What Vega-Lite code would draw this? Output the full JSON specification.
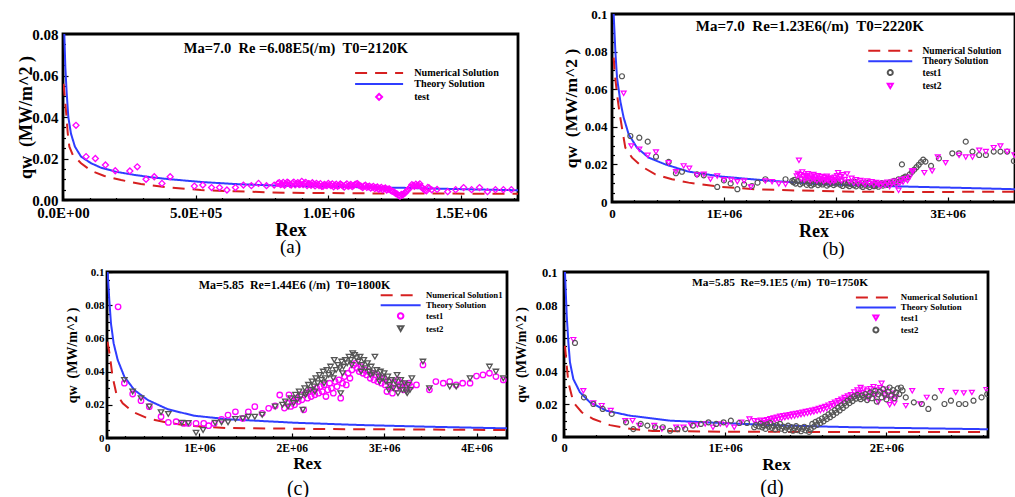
{
"$schema": "https://vega.github.io/schema/vega-lite/v6.json",
"background": "white",
"padding": {"left": 16, "top": 6, "right": 0, "bottom": 0},
"config": {
  "font": "Liberation Serif",
  "view": {"stroke": "black", "strokeWidth": 2.8},
  "axis": {"domain": false, "grid": false, "labelFont": "Liberation Serif", "labelFontWeight": "bold", "labelColor": "black", "titleFont": "Liberation Serif", "titleFontWeight": "bold", "titleColor": "black", "tickColor": "black", "tickWidth": 1.2, "labelOverlap": false, "labelBound": false, "labelFlush": false},
  "legend": {"labelFont": "Liberation Serif", "labelFontWeight": "bold", "labelColor": "black"},
  "title": {"font": "Liberation Serif", "fontWeight": "normal", "color": "black"}
},
"datasets": {
  "aL": [
    {"s":"Theory Solution","x":3000,"y":0.09},{"s":"Theory Solution","x":5000,"y":0.08},{"s":"Theory Solution","x":8800,"y":0.064},{"s":"Theory Solution","x":14000,"y":0.0514},{"s":"Theory Solution","x":20000,"y":0.04},{"s":"Theory Solution","x":30000,"y":0.032},{"s":"Theory Solution","x":45000,"y":0.0257},{"s":"Theory Solution","x":68000,"y":0.0209},{"s":"Theory Solution","x":106000,"y":0.0177},{"s":"Theory Solution","x":143000,"y":0.0156},{"s":"Theory Solution","x":200000,"y":0.0136},{"s":"Theory Solution","x":269000,"y":0.0121},{"s":"Theory Solution","x":330000,"y":0.011},{"s":"Theory Solution","x":395000,"y":0.0101},{"s":"Theory Solution","x":520000,"y":0.0087},{"s":"Theory Solution","x":646000,"y":0.0077},{"s":"Theory Solution","x":771000,"y":0.0071},{"s":"Theory Solution","x":900000,"y":0.0067},{"s":"Theory Solution","x":1023000,"y":0.0064},{"s":"Theory Solution","x":1150000,"y":0.0061},{"s":"Theory Solution","x":1274000,"y":0.0059},{"s":"Theory Solution","x":1400000,"y":0.0055},{"s":"Theory Solution","x":1550000,"y":0.0051},{"s":"Theory Solution","x":1715000,"y":0.0047},
    {"s":"Numerical Solution","x":2000,"y":0.056},{"s":"Numerical Solution","x":11000,"y":0.0434},{"s":"Numerical Solution","x":18000,"y":0.032},{"s":"Numerical Solution","x":24000,"y":0.0257},{"s":"Numerical Solution","x":37000,"y":0.0217},{"s":"Numerical Solution","x":68000,"y":0.0177},{"s":"Numerical Solution","x":106000,"y":0.0141},{"s":"Numerical Solution","x":156000,"y":0.0116},{"s":"Numerical Solution","x":219000,"y":0.0096},{"s":"Numerical Solution","x":294000,"y":0.0077},{"s":"Numerical Solution","x":395000,"y":0.0061},{"s":"Numerical Solution","x":520000,"y":0.0048},{"s":"Numerical Solution","x":646000,"y":0.0042},{"s":"Numerical Solution","x":830000,"y":0.0035},{"s":"Numerical Solution","x":1130000,"y":0.0032},{"s":"Numerical Solution","x":1400000,"y":0.0031},{"s":"Numerical Solution","x":1715000,"y":0.003}
  ],
  "aP": [
    {"s":"test","x":49000,"y":0.036},{"s":"test","x":87000,"y":0.0209},{"s":"test","x":122000,"y":0.02},{"s":"test","x":160000,"y":0.0169},{"s":"test","x":197000,"y":0.0141},{"s":"test","x":252000,"y":0.014},{"s":"test","x":280000,"y":0.016},{"s":"test","x":313000,"y":0.01},{"s":"test","x":344000,"y":0.0112},{"s":"test","x":373000,"y":0.008},{"s":"test","x":404000,"y":0.0112},{"s":"test","x":495000,"y":0.0067},{"s":"test","x":527000,"y":0.0072},{"s":"test","x":560000,"y":0.006},{"s":"test","x":590000,"y":0.006},{"s":"test","x":618000,"y":0.0048},{"s":"test","x":650000,"y":0.006},{"s":"test","x":680000,"y":0.0072},{"s":"test","x":710000,"y":0.0069},{"s":"test","x":737000,"y":0.008},{"s":"test","x":767000,"y":0.0069},{"s":"test","x":796000,"y":0.0072},
    {"s":"test","x":810000,"y":0.008},{"s":"test","x":820000,"y":0.0074},{"s":"test","x":830000,"y":0.0085},{"s":"test","x":840000,"y":0.0078},{"s":"test","x":850000,"y":0.0082},{"s":"test","x":860000,"y":0.0072},{"s":"test","x":870000,"y":0.0086},{"s":"test","x":880000,"y":0.0079},{"s":"test","x":890000,"y":0.0074},{"s":"test","x":900000,"y":0.009},{"s":"test","x":910000,"y":0.0081},{"s":"test","x":920000,"y":0.007},{"s":"test","x":930000,"y":0.0077},{"s":"test","x":940000,"y":0.0083},{"s":"test","x":950000,"y":0.0068},{"s":"test","x":960000,"y":0.0075},{"s":"test","x":970000,"y":0.0079},{"s":"test","x":980000,"y":0.0066},{"s":"test","x":990000,"y":0.0072},{"s":"test","x":1000000,"y":0.008},{"s":"test","x":1010000,"y":0.007},{"s":"test","x":1020000,"y":0.0064},{"s":"test","x":1030000,"y":0.0076},{"s":"test","x":1040000,"y":0.0069},{"s":"test","x":1050000,"y":0.0073},{"s":"test","x":1060000,"y":0.0062},{"s":"test","x":1070000,"y":0.0078},{"s":"test","x":1080000,"y":0.007},{"s":"test","x":1090000,"y":0.0065},{"s":"test","x":1100000,"y":0.0074},{"s":"test","x":1110000,"y":0.0079},{"s":"test","x":1120000,"y":0.0068},{"s":"test","x":1130000,"y":0.006},{"s":"test","x":1140000,"y":0.0071},{"s":"test","x":1150000,"y":0.0064},{"s":"test","x":1160000,"y":0.0057},{"s":"test","x":1170000,"y":0.0066},{"s":"test","x":1180000,"y":0.0059},{"s":"test","x":1190000,"y":0.0052},{"s":"test","x":1200000,"y":0.0061},{"s":"test","x":1210000,"y":0.0055},{"s":"test","x":1220000,"y":0.0048},{"s":"test","x":1230000,"y":0.0054},{"s":"test","x":1240000,"y":0.0043},{"s":"test","x":1250000,"y":0.0036},{"s":"test","x":1260000,"y":0.0028},{"s":"test","x":1270000,"y":0.0018},{"s":"test","x":1280000,"y":0.0024},{"s":"test","x":1290000,"y":0.0035},{"s":"test","x":1300000,"y":0.0049},{"s":"test","x":1310000,"y":0.0062},{"s":"test","x":1320000,"y":0.007},{"s":"test","x":1330000,"y":0.0076},{"s":"test","x":1340000,"y":0.0072},{"s":"test","x":1350000,"y":0.0064},{"s":"test","x":1360000,"y":0.0052},{"s":"test","x":1370000,"y":0.0044},{"s":"test","x":1380000,"y":0.0058},{"s":"test","x":1390000,"y":0.0049},
    {"s":"test","x":815000,"y":0.0084},{"s":"test","x":825000,"y":0.0077},{"s":"test","x":835000,"y":0.0071},{"s":"test","x":845000,"y":0.0086},{"s":"test","x":855000,"y":0.0076},{"s":"test","x":865000,"y":0.0081},{"s":"test","x":875000,"y":0.0073},{"s":"test","x":885000,"y":0.0084},{"s":"test","x":895000,"y":0.0077},{"s":"test","x":905000,"y":0.0074},{"s":"test","x":915000,"y":0.0085},{"s":"test","x":925000,"y":0.0079},{"s":"test","x":935000,"y":0.0071},{"s":"test","x":945000,"y":0.0076},{"s":"test","x":955000,"y":0.008},{"s":"test","x":965000,"y":0.007},{"s":"test","x":975000,"y":0.0066},{"s":"test","x":985000,"y":0.0075},{"s":"test","x":995000,"y":0.0069},{"s":"test","x":1005000,"y":0.0074},{"s":"test","x":1015000,"y":0.0078},{"s":"test","x":1025000,"y":0.0071},{"s":"test","x":1035000,"y":0.0066},{"s":"test","x":1045000,"y":0.0077},{"s":"test","x":1055000,"y":0.0068},{"s":"test","x":1065000,"y":0.0072},{"s":"test","x":1075000,"y":0.0066},{"s":"test","x":1085000,"y":0.0075},{"s":"test","x":1095000,"y":0.0069},{"s":"test","x":1105000,"y":0.0077},{"s":"test","x":1115000,"y":0.0072},{"s":"test","x":1125000,"y":0.0065},{"s":"test","x":1135000,"y":0.0068},{"s":"test","x":1145000,"y":0.0061},{"s":"test","x":1155000,"y":0.0067},{"s":"test","x":1165000,"y":0.0062},{"s":"test","x":1175000,"y":0.0055},{"s":"test","x":1185000,"y":0.0063},{"s":"test","x":1195000,"y":0.0057},{"s":"test","x":1205000,"y":0.005},{"s":"test","x":1215000,"y":0.0058},{"s":"test","x":1225000,"y":0.0052},{"s":"test","x":1235000,"y":0.0046},{"s":"test","x":1245000,"y":0.004},{"s":"test","x":1255000,"y":0.0031},{"s":"test","x":1265000,"y":0.0022},{"s":"test","x":1275000,"y":0.0027},{"s":"test","x":1285000,"y":0.0031},{"s":"test","x":1295000,"y":0.0042},{"s":"test","x":1305000,"y":0.0056},{"s":"test","x":1315000,"y":0.0074},{"s":"test","x":1325000,"y":0.0066},{"s":"test","x":1335000,"y":0.0069},{"s":"test","x":1345000,"y":0.0078},{"s":"test","x":1355000,"y":0.0058},{"s":"test","x":1365000,"y":0.0047},{"s":"test","x":1375000,"y":0.0061},
    {"s":"test","x":1410000,"y":0.0051},{"s":"test","x":1450000,"y":0.004},{"s":"test","x":1480000,"y":0.005},{"s":"test","x":1510000,"y":0.006},{"s":"test","x":1540000,"y":0.005},{"s":"test","x":1570000,"y":0.006},{"s":"test","x":1600000,"y":0.004},{"s":"test","x":1630000,"y":0.005},{"s":"test","x":1660000,"y":0.005},{"s":"test","x":1690000,"y":0.005}
  ],
  "bL": [
    {"s":"Theory Solution","x":8000,"y":0.11},{"s":"Theory Solution","x":15000,"y":0.1},{"s":"Theory Solution","x":30000,"y":0.08},{"s":"Theory Solution","x":45000,"y":0.066},{"s":"Theory Solution","x":74000,"y":0.0537},{"s":"Theory Solution","x":104000,"y":0.0449},{"s":"Theory Solution","x":149000,"y":0.036},{"s":"Theory Solution","x":223000,"y":0.0289},{"s":"Theory Solution","x":327000,"y":0.0236},{"s":"Theory Solution","x":476000,"y":0.02},{"s":"Theory Solution","x":680000,"y":0.0162},{"s":"Theory Solution","x":980000,"y":0.0135},{"s":"Theory Solution","x":1370000,"y":0.0115},{"s":"Theory Solution","x":1820000,"y":0.0096},{"s":"Theory Solution","x":2200000,"y":0.0088},{"s":"Theory Solution","x":2700000,"y":0.0081},{"s":"Theory Solution","x":3200000,"y":0.0074},{"s":"Theory Solution","x":3600000,"y":0.0068},
    {"s":"Numerical Solution","x":15000,"y":0.0768},{"s":"Numerical Solution","x":24000,"y":0.0688},{"s":"Numerical Solution","x":45000,"y":0.0573},{"s":"Numerical Solution","x":65000,"y":0.0484},{"s":"Numerical Solution","x":89000,"y":0.0395},{"s":"Numerical Solution","x":119000,"y":0.0289},{"s":"Numerical Solution","x":179000,"y":0.0236},{"s":"Numerical Solution","x":268000,"y":0.0188},{"s":"Numerical Solution","x":387000,"y":0.0147},{"s":"Numerical Solution","x":536000,"y":0.0121},{"s":"Numerical Solution","x":685000,"y":0.0103},{"s":"Numerical Solution","x":980000,"y":0.008},{"s":"Numerical Solution","x":1280000,"y":0.0068},{"s":"Numerical Solution","x":1580000,"y":0.0062},{"s":"Numerical Solution","x":2170000,"y":0.0055},{"s":"Numerical Solution","x":2770000,"y":0.0053},{"s":"Numerical Solution","x":3600000,"y":0.0055}
  ],
  "bP": [
    {"s":"test1","x":89000,"y":0.0669},{"s":"test1","x":164000,"y":0.0351},{"s":"test1","x":244000,"y":0.0342},{"s":"test1","x":319000,"y":0.0321},{"s":"test1","x":393000,"y":0.0241},{"s":"test1","x":506000,"y":0.0213},{"s":"test1","x":571000,"y":0.0153},{"s":"test1","x":625000,"y":0.0161},{"s":"test1","x":760000,"y":0.0147},{"s":"test1","x":820000,"y":0.0142},{"s":"test1","x":940000,"y":0.008},{"s":"test1","x":1000000,"y":0.0115},{"s":"test1","x":1060000,"y":0.0099},{"s":"test1","x":1120000,"y":0.0068},{"s":"test1","x":1180000,"y":0.0094},{"s":"test1","x":1250000,"y":0.0085},{"s":"test1","x":1300000,"y":0.0103},{"s":"test1","x":1370000,"y":0.0121},{"s":"test1","x":1550000,"y":0.0121},{"s":"test1","x":1610000,"y":0.0112},
    {"s":"test1","x":1620000,"y":0.0105},{"s":"test1","x":1640000,"y":0.0098},{"s":"test1","x":1660000,"y":0.0112},{"s":"test1","x":1680000,"y":0.0094},{"s":"test1","x":1700000,"y":0.0102},{"s":"test1","x":1720000,"y":0.0109},{"s":"test1","x":1740000,"y":0.0091},{"s":"test1","x":1760000,"y":0.01},{"s":"test1","x":1780000,"y":0.0088},{"s":"test1","x":1800000,"y":0.0096},{"s":"test1","x":1820000,"y":0.0104},{"s":"test1","x":1840000,"y":0.009},{"s":"test1","x":1860000,"y":0.0099},{"s":"test1","x":1880000,"y":0.0093},{"s":"test1","x":1900000,"y":0.0102},{"s":"test1","x":1920000,"y":0.0087},{"s":"test1","x":1940000,"y":0.0095},{"s":"test1","x":1960000,"y":0.0101},{"s":"test1","x":1980000,"y":0.009},{"s":"test1","x":2000000,"y":0.0097},{"s":"test1","x":2020000,"y":0.0106},{"s":"test1","x":2040000,"y":0.0092},{"s":"test1","x":2060000,"y":0.0085},{"s":"test1","x":2080000,"y":0.0099},{"s":"test1","x":2100000,"y":0.0091},{"s":"test1","x":2120000,"y":0.0084},{"s":"test1","x":2140000,"y":0.0096},{"s":"test1","x":2160000,"y":0.0089},{"s":"test1","x":2180000,"y":0.0083},{"s":"test1","x":2200000,"y":0.0094},{"s":"test1","x":2220000,"y":0.0087},{"s":"test1","x":2240000,"y":0.008},{"s":"test1","x":2260000,"y":0.0092},{"s":"test1","x":2280000,"y":0.0086},{"s":"test1","x":2300000,"y":0.0079},{"s":"test1","x":2320000,"y":0.009},{"s":"test1","x":2340000,"y":0.0084},{"s":"test1","x":2360000,"y":0.0088},{"s":"test1","x":2380000,"y":0.0081},{"s":"test1","x":2400000,"y":0.0093},{"s":"test1","x":2420000,"y":0.0087},{"s":"test1","x":2440000,"y":0.0098},{"s":"test1","x":2460000,"y":0.0091},{"s":"test1","x":2480000,"y":0.0104},{"s":"test1","x":2500000,"y":0.0099},{"s":"test1","x":2520000,"y":0.0112},{"s":"test1","x":2540000,"y":0.0107},{"s":"test1","x":2560000,"y":0.0121},{"s":"test1","x":2580000,"y":0.0116},{"s":"test1","x":2600000,"y":0.0128},{"s":"test1","x":2620000,"y":0.0135},{"s":"test1","x":2640000,"y":0.0131},{"s":"test1","x":2660000,"y":0.0147},{"s":"test1","x":2680000,"y":0.016},{"s":"test1","x":2700000,"y":0.0172},{"s":"test1","x":2720000,"y":0.0185},{"s":"test1","x":2740000,"y":0.0198},{"s":"test1","x":2760000,"y":0.0212},{"s":"test1","x":2780000,"y":0.0225},{"s":"test1","x":2800000,"y":0.0215},
    {"s":"test1","x":1630000,"y":0.0118},{"s":"test1","x":1690000,"y":0.0121},{"s":"test1","x":1750000,"y":0.0114},{"s":"test1","x":1810000,"y":0.0117},{"s":"test1","x":1870000,"y":0.011},{"s":"test1","x":1930000,"y":0.0113},{"s":"test1","x":1990000,"y":0.0108},{"s":"test1","x":2050000,"y":0.0111},{"s":"test1","x":2110000,"y":0.0104},{"s":"test1","x":2170000,"y":0.0107},{"s":"test1","x":2230000,"y":0.0101},{"s":"test1","x":2290000,"y":0.0103},{"s":"test1","x":2350000,"y":0.0097},{"s":"test1","x":2410000,"y":0.01},
    {"s":"test1","x":2590000,"y":0.02},{"s":"test1","x":2850000,"y":0.0192},{"s":"test1","x":2920000,"y":0.0232},{"s":"test1","x":3040000,"y":0.0259},{"s":"test1","x":3100000,"y":0.0259},{"s":"test1","x":3160000,"y":0.0321},{"s":"test1","x":3220000,"y":0.0268},{"s":"test1","x":3280000,"y":0.025},{"s":"test1","x":3340000,"y":0.025},{"s":"test1","x":3410000,"y":0.0268},{"s":"test1","x":3470000,"y":0.0268},{"s":"test1","x":3530000,"y":0.0268},{"s":"test1","x":3590000,"y":0.0218},
    {"s":"test2","x":104000,"y":0.0578},{"s":"test2","x":173000,"y":0.0298},{"s":"test2","x":244000,"y":0.028},{"s":"test2","x":319000,"y":0.0248},{"s":"test2","x":393000,"y":0.0266},{"s":"test2","x":506000,"y":0.0209},{"s":"test2","x":571000,"y":0.0161},{"s":"test2","x":640000,"y":0.0192},{"s":"test2","x":690000,"y":0.0179},{"s":"test2","x":759000,"y":0.0144},{"s":"test2","x":820000,"y":0.0147},{"s":"test2","x":880000,"y":0.0121},{"s":"test2","x":940000,"y":0.0138},{"s":"test2","x":1000000,"y":0.0118},{"s":"test2","x":1065000,"y":0.0117},{"s":"test2","x":1120000,"y":0.0108},{"s":"test2","x":1180000,"y":0.0112},{"s":"test2","x":1240000,"y":0.008},{"s":"test2","x":1370000,"y":0.0112},{"s":"test2","x":1430000,"y":0.0108},{"s":"test2","x":1490000,"y":0.0097},{"s":"test2","x":1550000,"y":0.0094},{"s":"test2","x":1670000,"y":0.0222},
    {"s":"test2","x":1650000,"y":0.0138},{"s":"test2","x":1660000,"y":0.0152},{"s":"test2","x":1680000,"y":0.0145},{"s":"test2","x":1690000,"y":0.0122},{"s":"test2","x":1700000,"y":0.016},{"s":"test2","x":1710000,"y":0.0134},{"s":"test2","x":1720000,"y":0.0118},{"s":"test2","x":1730000,"y":0.0141},{"s":"test2","x":1740000,"y":0.0127},{"s":"test2","x":1750000,"y":0.015},{"s":"test2","x":1760000,"y":0.0132},{"s":"test2","x":1770000,"y":0.0115},{"s":"test2","x":1780000,"y":0.0138},{"s":"test2","x":1790000,"y":0.0124},{"s":"test2","x":1800000,"y":0.0146},{"s":"test2","x":1810000,"y":0.012},{"s":"test2","x":1820000,"y":0.0133},{"s":"test2","x":1830000,"y":0.0112},{"s":"test2","x":1840000,"y":0.014},{"s":"test2","x":1850000,"y":0.0126},{"s":"test2","x":1860000,"y":0.0117},{"s":"test2","x":1870000,"y":0.0135},{"s":"test2","x":1880000,"y":0.0121},{"s":"test2","x":1890000,"y":0.0109},{"s":"test2","x":1900000,"y":0.013},{"s":"test2","x":1910000,"y":0.0118},{"s":"test2","x":1920000,"y":0.0137},{"s":"test2","x":1930000,"y":0.0114},{"s":"test2","x":1940000,"y":0.0125},{"s":"test2","x":1950000,"y":0.0106},{"s":"test2","x":1960000,"y":0.0128},{"s":"test2","x":1970000,"y":0.0119},{"s":"test2","x":1980000,"y":0.011},{"s":"test2","x":1990000,"y":0.0131},{"s":"test2","x":2000000,"y":0.0116},{"s":"test2","x":2010000,"y":0.014},{"s":"test2","x":2020000,"y":0.0156},{"s":"test2","x":2030000,"y":0.0122},{"s":"test2","x":2040000,"y":0.0134},{"s":"test2","x":2050000,"y":0.0112},{"s":"test2","x":2060000,"y":0.0145},{"s":"test2","x":2080000,"y":0.012},{"s":"test2","x":2100000,"y":0.0149},{"s":"test2","x":2120000,"y":0.0108},{"s":"test2","x":2140000,"y":0.0126},{"s":"test2","x":2160000,"y":0.0101},{"s":"test2","x":2180000,"y":0.0118},{"s":"test2","x":2200000,"y":0.0097},{"s":"test2","x":2220000,"y":0.0114},{"s":"test2","x":2240000,"y":0.0105},{"s":"test2","x":2260000,"y":0.0092},{"s":"test2","x":2280000,"y":0.0111},{"s":"test2","x":2300000,"y":0.0098},{"s":"test2","x":2320000,"y":0.0108},{"s":"test2","x":2340000,"y":0.009},{"s":"test2","x":2360000,"y":0.0103},{"s":"test2","x":2380000,"y":0.0094},{"s":"test2","x":2400000,"y":0.0086},{"s":"test2","x":2420000,"y":0.01},{"s":"test2","x":2440000,"y":0.0089},{"s":"test2","x":2460000,"y":0.0105},{"s":"test2","x":2480000,"y":0.0082},{"s":"test2","x":2500000,"y":0.0096},{"s":"test2","x":2520000,"y":0.011},{"s":"test2","x":2540000,"y":0.0087},{"s":"test2","x":2560000,"y":0.0062},{"s":"test2","x":2570000,"y":0.0099},{"s":"test2","x":2580000,"y":0.0118},{"s":"test2","x":2600000,"y":0.0105},{"s":"test2","x":2620000,"y":0.0124},{"s":"test2","x":2640000,"y":0.0113},{"s":"test2","x":2660000,"y":0.0132},{"s":"test2","x":2680000,"y":0.0165},
    {"s":"test2","x":2690000,"y":0.0165},{"s":"test2","x":2790000,"y":0.0156},{"s":"test2","x":2860000,"y":0.0165},{"s":"test2","x":2910000,"y":0.0239},{"s":"test2","x":2980000,"y":0.0209},{"s":"test2","x":3100000,"y":0.0248},{"s":"test2","x":3160000,"y":0.0239},{"s":"test2","x":3220000,"y":0.0239},{"s":"test2","x":3280000,"y":0.0275},{"s":"test2","x":3340000,"y":0.0268},{"s":"test2","x":3410000,"y":0.0289},{"s":"test2","x":3470000,"y":0.0298},{"s":"test2","x":3530000,"y":0.0268},{"s":"test2","x":3595000,"y":0.025}
  ],
  "cL": [
    {"s":"Theory Solution","x":4000,"y":0.11},{"s":"Theory Solution","x":7000,"y":0.1},{"s":"Theory Solution","x":25000,"y":0.083},{"s":"Theory Solution","x":43000,"y":0.069},{"s":"Theory Solution","x":72000,"y":0.057},{"s":"Theory Solution","x":116000,"y":0.047},{"s":"Theory Solution","x":188000,"y":0.0369},{"s":"Theory Solution","x":296000,"y":0.0289},{"s":"Theory Solution","x":441000,"y":0.0229},{"s":"Theory Solution","x":658000,"y":0.0173},{"s":"Theory Solution","x":946000,"y":0.0134},{"s":"Theory Solution","x":1310000,"y":0.0113},{"s":"Theory Solution","x":2030000,"y":0.0092},{"s":"Theory Solution","x":2750000,"y":0.0078},{"s":"Theory Solution","x":3470000,"y":0.0068},{"s":"Theory Solution","x":4330000,"y":0.0058},
    {"s":"Numerical Solution1","x":5000,"y":0.058},{"s":"Numerical Solution1","x":30000,"y":0.05},{"s":"Numerical Solution1","x":60000,"y":0.037},{"s":"Numerical Solution1","x":100000,"y":0.027},{"s":"Numerical Solution1","x":170000,"y":0.0209},{"s":"Numerical Solution1","x":278000,"y":0.0158},{"s":"Numerical Solution1","x":441000,"y":0.0118},{"s":"Numerical Solution1","x":658000,"y":0.0092},{"s":"Numerical Solution1","x":874000,"y":0.0074},{"s":"Numerical Solution1","x":1310000,"y":0.006},{"s":"Numerical Solution1","x":2390000,"y":0.0054},{"s":"Numerical Solution1","x":4330000,"y":0.0048}
  ],
  "cP": [
    {"s":"test1","x":120000,"y":0.079},{"s":"test1","x":188000,"y":0.033},{"s":"test1","x":278000,"y":0.0265},{"s":"test1","x":368000,"y":0.0225},{"s":"test1","x":458000,"y":0.0189},{"s":"test1","x":585000,"y":0.0128},{"s":"test1","x":664000,"y":0.0094},{"s":"test1","x":748000,"y":0.0098},{"s":"test1","x":831000,"y":0.0088},{"s":"test1","x":881000,"y":0.0088},{"s":"test1","x":964000,"y":0.0088},{"s":"test1","x":1047000,"y":0.0088},{"s":"test1","x":1100000,"y":0.0074},{"s":"test1","x":1160000,"y":0.0088},{"s":"test1","x":1240000,"y":0.0112},{"s":"test1","x":1310000,"y":0.0138},{"s":"test1","x":1390000,"y":0.0158},{"s":"test1","x":1470000,"y":0.0118},{"s":"test1","x":1530000,"y":0.0158},{"s":"test1","x":1600000,"y":0.0189},{"s":"test1","x":1680000,"y":0.0149},{"s":"test1","x":1750000,"y":0.0179},{"s":"test1","x":1820000,"y":0.0193},{"s":"test1","x":1870000,"y":0.0259},
    {"s":"test1","x":1920000,"y":0.018},{"s":"test1","x":1950000,"y":0.021},{"s":"test1","x":1970000,"y":0.026},{"s":"test1","x":1990000,"y":0.019},{"s":"test1","x":2010000,"y":0.022},{"s":"test1","x":2030000,"y":0.02},{"s":"test1","x":2050000,"y":0.024},{"s":"test1","x":2070000,"y":0.022},{"s":"test1","x":2090000,"y":0.026},{"s":"test1","x":2110000,"y":0.023},{"s":"test1","x":2130000,"y":0.017},{"s":"test1","x":2150000,"y":0.027},{"s":"test1","x":2170000,"y":0.024},{"s":"test1","x":2190000,"y":0.028},{"s":"test1","x":2210000,"y":0.025},{"s":"test1","x":2230000,"y":0.029},{"s":"test1","x":2250000,"y":0.026},{"s":"test1","x":2270000,"y":0.03},{"s":"test1","x":2290000,"y":0.027},{"s":"test1","x":2310000,"y":0.031},{"s":"test1","x":2330000,"y":0.028},{"s":"test1","x":2350000,"y":0.032},{"s":"test1","x":2370000,"y":0.025},{"s":"test1","x":2390000,"y":0.029},{"s":"test1","x":2410000,"y":0.033},{"s":"test1","x":2430000,"y":0.03},{"s":"test1","x":2450000,"y":0.027},{"s":"test1","x":2470000,"y":0.034},{"s":"test1","x":2490000,"y":0.031},{"s":"test1","x":2510000,"y":0.035},{"s":"test1","x":2530000,"y":0.024},{"s":"test1","x":2550000,"y":0.033},{"s":"test1","x":2570000,"y":0.037},{"s":"test1","x":2590000,"y":0.032},{"s":"test1","x":2610000,"y":0.039},{"s":"test1","x":2630000,"y":0.036},{"s":"test1","x":2650000,"y":0.041},{"s":"test1","x":2670000,"y":0.044},{"s":"test1","x":2690000,"y":0.045},{"s":"test1","x":2710000,"y":0.042},{"s":"test1","x":2730000,"y":0.04},{"s":"test1","x":2750000,"y":0.043},{"s":"test1","x":2770000,"y":0.039},{"s":"test1","x":2790000,"y":0.041},{"s":"test1","x":2810000,"y":0.038},{"s":"test1","x":2830000,"y":0.04},{"s":"test1","x":2850000,"y":0.036},{"s":"test1","x":2870000,"y":0.039},{"s":"test1","x":2890000,"y":0.035},{"s":"test1","x":2910000,"y":0.038},{"s":"test1","x":2930000,"y":0.034},{"s":"test1","x":2950000,"y":0.037},{"s":"test1","x":2970000,"y":0.033},{"s":"test1","x":2990000,"y":0.036},{"s":"test1","x":3010000,"y":0.032},{"s":"test1","x":3030000,"y":0.028},{"s":"test1","x":3050000,"y":0.034},{"s":"test1","x":3070000,"y":0.031},{"s":"test1","x":3090000,"y":0.027},{"s":"test1","x":3110000,"y":0.033},{"s":"test1","x":3130000,"y":0.03},{"s":"test1","x":3150000,"y":0.035},{"s":"test1","x":3170000,"y":0.031},{"s":"test1","x":3190000,"y":0.033},{"s":"test1","x":3210000,"y":0.029},{"s":"test1","x":3230000,"y":0.032},{"s":"test1","x":3250000,"y":0.03},{"s":"test1","x":3270000,"y":0.033},{"s":"test1","x":3290000,"y":0.031},
    {"s":"test1","x":3350000,"y":0.032},{"s":"test1","x":3420000,"y":0.044},{"s":"test1","x":3490000,"y":0.029},{"s":"test1","x":3560000,"y":0.034},{"s":"test1","x":3640000,"y":0.033},{"s":"test1","x":3710000,"y":0.034},{"s":"test1","x":3780000,"y":0.032},{"s":"test1","x":3850000,"y":0.033},{"s":"test1","x":3930000,"y":0.033},{"s":"test1","x":4000000,"y":0.0373},{"s":"test1","x":4070000,"y":0.038},{"s":"test1","x":4140000,"y":0.039},{"s":"test1","x":4210000,"y":0.037},{"s":"test1","x":4290000,"y":0.035},
    {"s":"test2","x":188000,"y":0.035},{"s":"test2","x":278000,"y":0.028},{"s":"test2","x":368000,"y":0.024},{"s":"test2","x":458000,"y":0.019},{"s":"test2","x":585000,"y":0.0155},{"s":"test2","x":664000,"y":0.0145},{"s":"test2","x":810000,"y":0.0092},{"s":"test2","x":880000,"y":0.009},{"s":"test2","x":964000,"y":0.0032},{"s":"test2","x":1040000,"y":0.0048},{"s":"test2","x":1170000,"y":0.0092},{"s":"test2","x":1240000,"y":0.0095},{"s":"test2","x":1310000,"y":0.0095},{"s":"test2","x":1390000,"y":0.0115},{"s":"test2","x":1470000,"y":0.0118},{"s":"test2","x":1530000,"y":0.0128},{"s":"test2","x":1600000,"y":0.0128},{"s":"test2","x":1680000,"y":0.014},{"s":"test2","x":1820000,"y":0.019},
    {"s":"test2","x":1900000,"y":0.02},{"s":"test2","x":1930000,"y":0.022},{"s":"test2","x":1960000,"y":0.019},{"s":"test2","x":1990000,"y":0.024},{"s":"test2","x":2020000,"y":0.021},{"s":"test2","x":2040000,"y":0.026},{"s":"test2","x":2060000,"y":0.023},{"s":"test2","x":2080000,"y":0.028},{"s":"test2","x":2100000,"y":0.025},{"s":"test2","x":2120000,"y":0.017},{"s":"test2","x":2140000,"y":0.03},{"s":"test2","x":2160000,"y":0.027},{"s":"test2","x":2180000,"y":0.032},{"s":"test2","x":2200000,"y":0.029},{"s":"test2","x":2220000,"y":0.034},{"s":"test2","x":2240000,"y":0.031},{"s":"test2","x":2260000,"y":0.036},{"s":"test2","x":2280000,"y":0.033},{"s":"test2","x":2300000,"y":0.038},{"s":"test2","x":2320000,"y":0.035},{"s":"test2","x":2340000,"y":0.04},{"s":"test2","x":2360000,"y":0.036},{"s":"test2","x":2380000,"y":0.041},{"s":"test2","x":2400000,"y":0.038},{"s":"test2","x":2420000,"y":0.043},{"s":"test2","x":2440000,"y":0.039},{"s":"test2","x":2460000,"y":0.047},{"s":"test2","x":2480000,"y":0.041},{"s":"test2","x":2500000,"y":0.044},{"s":"test2","x":2520000,"y":0.042},{"s":"test2","x":2540000,"y":0.046},{"s":"test2","x":2560000,"y":0.043},{"s":"test2","x":2580000,"y":0.047},{"s":"test2","x":2600000,"y":0.045},{"s":"test2","x":2620000,"y":0.049},{"s":"test2","x":2640000,"y":0.047},{"s":"test2","x":2660000,"y":0.051},{"s":"test2","x":2680000,"y":0.05},{"s":"test2","x":2700000,"y":0.048},{"s":"test2","x":2720000,"y":0.046},{"s":"test2","x":2740000,"y":0.049},{"s":"test2","x":2760000,"y":0.044},{"s":"test2","x":2780000,"y":0.047},{"s":"test2","x":2800000,"y":0.042},{"s":"test2","x":2820000,"y":0.045},{"s":"test2","x":2840000,"y":0.04},{"s":"test2","x":2860000,"y":0.043},{"s":"test2","x":2880000,"y":0.039},{"s":"test2","x":2900000,"y":0.049},{"s":"test2","x":2920000,"y":0.041},{"s":"test2","x":2940000,"y":0.037},{"s":"test2","x":2960000,"y":0.04},{"s":"test2","x":2980000,"y":0.036},{"s":"test2","x":3000000,"y":0.039},{"s":"test2","x":3020000,"y":0.034},{"s":"test2","x":3040000,"y":0.037},{"s":"test2","x":3060000,"y":0.032},{"s":"test2","x":3080000,"y":0.035},{"s":"test2","x":3100000,"y":0.03},{"s":"test2","x":3120000,"y":0.034},{"s":"test2","x":3140000,"y":0.038},{"s":"test2","x":3160000,"y":0.031},{"s":"test2","x":3180000,"y":0.035},{"s":"test2","x":3200000,"y":0.029},{"s":"test2","x":3220000,"y":0.033},{"s":"test2","x":3240000,"y":0.028},{"s":"test2","x":3260000,"y":0.032},{"s":"test2","x":3280000,"y":0.029},{"s":"test2","x":3300000,"y":0.036},
    {"s":"test2","x":2150000,"y":0.026},{"s":"test2","x":2250000,"y":0.028},{"s":"test2","x":2350000,"y":0.033},{"s":"test2","x":2450000,"y":0.036},{"s":"test2","x":2550000,"y":0.039},{"s":"test2","x":2650000,"y":0.044},{"s":"test2","x":2750000,"y":0.04},{"s":"test2","x":2850000,"y":0.038},{"s":"test2","x":2950000,"y":0.034},{"s":"test2","x":3050000,"y":0.029},{"s":"test2","x":3150000,"y":0.027},{"s":"test2","x":2530000,"y":0.027},{"s":"test2","x":3250000,"y":0.027},
    {"s":"test2","x":3420000,"y":0.046},{"s":"test2","x":3490000,"y":0.03},{"s":"test2","x":3710000,"y":0.031},{"s":"test2","x":3780000,"y":0.031},{"s":"test2","x":3930000,"y":0.036},{"s":"test2","x":4140000,"y":0.043},{"s":"test2","x":4210000,"y":0.04},{"s":"test2","x":4290000,"y":0.036}
  ],
  "dL": [
    {"s":"Theory Solution","x":3000,"y":0.11},{"s":"Theory Solution","x":6000,"y":0.1},{"s":"Theory Solution","x":17000,"y":0.0735},{"s":"Theory Solution","x":27000,"y":0.0574},{"s":"Theory Solution","x":37000,"y":0.0453},{"s":"Theory Solution","x":58000,"y":0.0351},{"s":"Theory Solution","x":99000,"y":0.0271},{"s":"Theory Solution","x":161000,"y":0.021},{"s":"Theory Solution","x":265000,"y":0.0159},{"s":"Theory Solution","x":410000,"y":0.0129},{"s":"Theory Solution","x":660000,"y":0.0099},{"s":"Theory Solution","x":970000,"y":0.0085},{"s":"Theory Solution","x":1380000,"y":0.0069},{"s":"Theory Solution","x":1800000,"y":0.0059},{"s":"Theory Solution","x":2210000,"y":0.0053},{"s":"Theory Solution","x":2630000,"y":0.0047},
    {"s":"Numerical Solution1","x":6000,"y":0.0553},{"s":"Numerical Solution1","x":17000,"y":0.0432},{"s":"Numerical Solution1","x":27000,"y":0.0331},{"s":"Numerical Solution1","x":48000,"y":0.025},{"s":"Numerical Solution1","x":58000,"y":0.021},{"s":"Numerical Solution1","x":110000,"y":0.015},{"s":"Numerical Solution1","x":182000,"y":0.0109},{"s":"Numerical Solution1","x":286000,"y":0.0072},{"s":"Numerical Solution1","x":410000,"y":0.005},{"s":"Numerical Solution1","x":550000,"y":0.0037},{"s":"Numerical Solution1","x":970000,"y":0.0032},{"s":"Numerical Solution1","x":1800000,"y":0.003},{"s":"Numerical Solution1","x":2630000,"y":0.003}
  ],
  "dP": [
    {"s":"test1","x":58000,"y":0.059},{"s":"test1","x":120000,"y":0.028},{"s":"test1","x":182000,"y":0.0206},{"s":"test1","x":234000,"y":0.019},{"s":"test1","x":290000,"y":0.016},{"s":"test1","x":380000,"y":0.0099},{"s":"test1","x":425000,"y":0.0099},{"s":"test1","x":466000,"y":0.0069},{"s":"test1","x":560000,"y":0.0069},{"s":"test1","x":607000,"y":0.0048},{"s":"test1","x":696000,"y":0.0059},{"s":"test1","x":741000,"y":0.0059},{"s":"test1","x":787000,"y":0.0073},{"s":"test1","x":828000,"y":0.0073},{"s":"test1","x":876000,"y":0.0079},{"s":"test1","x":924000,"y":0.0059},{"s":"test1","x":970000,"y":0.0079},{"s":"test1","x":1010000,"y":0.0073},{"s":"test1","x":1056000,"y":0.0059},{"s":"test1","x":1100000,"y":0.0089},{"s":"test1","x":1150000,"y":0.0109},{"s":"test1","x":1180000,"y":0.0099},
    {"s":"test1","x":1200000,"y":0.0095},{"s":"test1","x":1220000,"y":0.0102},{"s":"test1","x":1230000,"y":0.0088},{"s":"test1","x":1240000,"y":0.0099},{"s":"test1","x":1250000,"y":0.0083},{"s":"test1","x":1260000,"y":0.0105},{"s":"test1","x":1270000,"y":0.0092},{"s":"test1","x":1280000,"y":0.011},{"s":"test1","x":1290000,"y":0.0097},{"s":"test1","x":1300000,"y":0.0115},{"s":"test1","x":1310000,"y":0.0103},{"s":"test1","x":1320000,"y":0.012},{"s":"test1","x":1330000,"y":0.0108},{"s":"test1","x":1340000,"y":0.0125},{"s":"test1","x":1350000,"y":0.0112},{"s":"test1","x":1360000,"y":0.0128},{"s":"test1","x":1370000,"y":0.0117},{"s":"test1","x":1380000,"y":0.0131},{"s":"test1","x":1390000,"y":0.0121},{"s":"test1","x":1400000,"y":0.0135},{"s":"test1","x":1410000,"y":0.0124},{"s":"test1","x":1420000,"y":0.0139},{"s":"test1","x":1430000,"y":0.0127},{"s":"test1","x":1440000,"y":0.0142},{"s":"test1","x":1450000,"y":0.0131},{"s":"test1","x":1460000,"y":0.0146},{"s":"test1","x":1470000,"y":0.0135},{"s":"test1","x":1480000,"y":0.015},{"s":"test1","x":1490000,"y":0.0139},{"s":"test1","x":1500000,"y":0.0154},{"s":"test1","x":1510000,"y":0.0143},{"s":"test1","x":1520000,"y":0.0158},{"s":"test1","x":1530000,"y":0.0147},{"s":"test1","x":1540000,"y":0.0162},{"s":"test1","x":1550000,"y":0.0152},{"s":"test1","x":1560000,"y":0.0167},{"s":"test1","x":1570000,"y":0.0156},{"s":"test1","x":1580000,"y":0.0172},{"s":"test1","x":1590000,"y":0.016},{"s":"test1","x":1600000,"y":0.0178},{"s":"test1","x":1610000,"y":0.0166},{"s":"test1","x":1620000,"y":0.0185},{"s":"test1","x":1630000,"y":0.0172},{"s":"test1","x":1640000,"y":0.0193},{"s":"test1","x":1650000,"y":0.0181},{"s":"test1","x":1660000,"y":0.0201},{"s":"test1","x":1670000,"y":0.019},{"s":"test1","x":1680000,"y":0.021},{"s":"test1","x":1690000,"y":0.0199},{"s":"test1","x":1700000,"y":0.0219},{"s":"test1","x":1710000,"y":0.0208},{"s":"test1","x":1720000,"y":0.0229},{"s":"test1","x":1730000,"y":0.0217},{"s":"test1","x":1740000,"y":0.0239},{"s":"test1","x":1750000,"y":0.0226},{"s":"test1","x":1760000,"y":0.0248},{"s":"test1","x":1770000,"y":0.0235},{"s":"test1","x":1780000,"y":0.0256},{"s":"test1","x":1790000,"y":0.0243},{"s":"test1","x":1800000,"y":0.0272},{"s":"test1","x":1810000,"y":0.0251},{"s":"test1","x":1820000,"y":0.0285},{"s":"test1","x":1830000,"y":0.0262},{"s":"test1","x":1840000,"y":0.03},{"s":"test1","x":1850000,"y":0.0268},{"s":"test1","x":1860000,"y":0.029},{"s":"test1","x":1870000,"y":0.0245},{"s":"test1","x":1880000,"y":0.0278},{"s":"test1","x":1890000,"y":0.023},{"s":"test1","x":1900000,"y":0.0292},{"s":"test1","x":1910000,"y":0.0262},{"s":"test1","x":1920000,"y":0.0305},{"s":"test1","x":1930000,"y":0.0248},{"s":"test1","x":1940000,"y":0.0285},{"s":"test1","x":1950000,"y":0.0212},{"s":"test1","x":1960000,"y":0.0298},{"s":"test1","x":1970000,"y":0.0325},{"s":"test1","x":1980000,"y":0.027},{"s":"test1","x":1990000,"y":0.024},{"s":"test1","x":2000000,"y":0.029},{"s":"test1","x":2010000,"y":0.0255},{"s":"test1","x":2020000,"y":0.0195},{"s":"test1","x":2030000,"y":0.023},{"s":"test1","x":2040000,"y":0.0265},{"s":"test1","x":2050000,"y":0.0205},{"s":"test1","x":2060000,"y":0.024},
    {"s":"test1","x":2120000,"y":0.019},{"s":"test1","x":2160000,"y":0.028},{"s":"test1","x":2210000,"y":0.02},{"s":"test1","x":2250000,"y":0.024},{"s":"test1","x":2340000,"y":0.028},{"s":"test1","x":2430000,"y":0.027},{"s":"test1","x":2480000,"y":0.0267},{"s":"test1","x":2530000,"y":0.027},{"s":"test1","x":2620000,"y":0.0287},
    {"s":"test2","x":68000,"y":0.057},{"s":"test2","x":124000,"y":0.024},{"s":"test2","x":182000,"y":0.02},{"s":"test2","x":240000,"y":0.017},{"s":"test2","x":296000,"y":0.014},{"s":"test2","x":385000,"y":0.0089},{"s":"test2","x":430000,"y":0.0048},{"s":"test2","x":476000,"y":0.0079},{"s":"test2","x":517000,"y":0.0069},{"s":"test2","x":565000,"y":0.0059},{"s":"test2","x":613000,"y":0.0059},{"s":"test2","x":658000,"y":0.0038},{"s":"test2","x":704000,"y":0.0048},{"s":"test2","x":752000,"y":0.0048},{"s":"test2","x":800000,"y":0.0069},{"s":"test2","x":849000,"y":0.0079},{"s":"test2","x":896000,"y":0.0089},{"s":"test2","x":944000,"y":0.0079},{"s":"test2","x":990000,"y":0.0089},{"s":"test2","x":1035000,"y":0.0099},{"s":"test2","x":1087000,"y":0.0085},{"s":"test2","x":1135000,"y":0.0085},{"s":"test2","x":1180000,"y":0.0059},
    {"s":"test2","x":1190000,"y":0.0072},{"s":"test2","x":1210000,"y":0.0064},{"s":"test2","x":1220000,"y":0.0081},{"s":"test2","x":1230000,"y":0.0058},{"s":"test2","x":1240000,"y":0.007},{"s":"test2","x":1250000,"y":0.0049},{"s":"test2","x":1260000,"y":0.0076},{"s":"test2","x":1270000,"y":0.0062},{"s":"test2","x":1280000,"y":0.0085},{"s":"test2","x":1290000,"y":0.0055},{"s":"test2","x":1300000,"y":0.0068},{"s":"test2","x":1310000,"y":0.0046},{"s":"test2","x":1320000,"y":0.0072},{"s":"test2","x":1330000,"y":0.0058},{"s":"test2","x":1340000,"y":0.008},{"s":"test2","x":1350000,"y":0.005},{"s":"test2","x":1360000,"y":0.0063},{"s":"test2","x":1370000,"y":0.0041},{"s":"test2","x":1380000,"y":0.0057},{"s":"test2","x":1390000,"y":0.0069},{"s":"test2","x":1400000,"y":0.0045},{"s":"test2","x":1410000,"y":0.006},{"s":"test2","x":1420000,"y":0.0038},{"s":"test2","x":1430000,"y":0.0053},{"s":"test2","x":1440000,"y":0.0066},{"s":"test2","x":1450000,"y":0.0042},{"s":"test2","x":1460000,"y":0.0056},{"s":"test2","x":1470000,"y":0.0035},{"s":"test2","x":1480000,"y":0.0049},{"s":"test2","x":1490000,"y":0.0062},{"s":"test2","x":1500000,"y":0.004},{"s":"test2","x":1510000,"y":0.0054},{"s":"test2","x":1520000,"y":0.0031},{"s":"test2","x":1530000,"y":0.0047},{"s":"test2","x":1540000,"y":0.0079},{"s":"test2","x":1550000,"y":0.0063},{"s":"test2","x":1560000,"y":0.0092},{"s":"test2","x":1570000,"y":0.0074},{"s":"test2","x":1580000,"y":0.0101},{"s":"test2","x":1590000,"y":0.0085},{"s":"test2","x":1600000,"y":0.0112},{"s":"test2","x":1610000,"y":0.0095},{"s":"test2","x":1620000,"y":0.0124},{"s":"test2","x":1630000,"y":0.0108},{"s":"test2","x":1640000,"y":0.0137},{"s":"test2","x":1650000,"y":0.012},{"s":"test2","x":1660000,"y":0.015},{"s":"test2","x":1670000,"y":0.0133},{"s":"test2","x":1680000,"y":0.0163},{"s":"test2","x":1690000,"y":0.0147},{"s":"test2","x":1700000,"y":0.0178},{"s":"test2","x":1710000,"y":0.0161},{"s":"test2","x":1720000,"y":0.0192},{"s":"test2","x":1730000,"y":0.0176},{"s":"test2","x":1740000,"y":0.0206},{"s":"test2","x":1750000,"y":0.019},{"s":"test2","x":1760000,"y":0.0221},{"s":"test2","x":1770000,"y":0.0205},{"s":"test2","x":1780000,"y":0.0234},{"s":"test2","x":1790000,"y":0.0218},{"s":"test2","x":1800000,"y":0.0247},{"s":"test2","x":1810000,"y":0.0232},{"s":"test2","x":1820000,"y":0.0255},{"s":"test2","x":1830000,"y":0.024},{"s":"test2","x":1840000,"y":0.0229},{"s":"test2","x":1850000,"y":0.0252},{"s":"test2","x":1860000,"y":0.0238},{"s":"test2","x":1870000,"y":0.026},{"s":"test2","x":1880000,"y":0.0224},{"s":"test2","x":1890000,"y":0.0248},{"s":"test2","x":1900000,"y":0.027},{"s":"test2","x":1910000,"y":0.0235},{"s":"test2","x":1920000,"y":0.0262},{"s":"test2","x":1930000,"y":0.028},{"s":"test2","x":1940000,"y":0.0215},{"s":"test2","x":1950000,"y":0.0258},{"s":"test2","x":1960000,"y":0.0275},{"s":"test2","x":1970000,"y":0.024},{"s":"test2","x":1980000,"y":0.029},{"s":"test2","x":1990000,"y":0.0262},{"s":"test2","x":2000000,"y":0.0228},{"s":"test2","x":2010000,"y":0.0275},{"s":"test2","x":2020000,"y":0.03},{"s":"test2","x":2030000,"y":0.025},{"s":"test2","x":2040000,"y":0.0285},{"s":"test2","x":2050000,"y":0.0235},{"s":"test2","x":2060000,"y":0.027},{"s":"test2","x":2070000,"y":0.0295},{"s":"test2","x":2080000,"y":0.026},{"s":"test2","x":2090000,"y":0.03},{"s":"test2","x":2100000,"y":0.0282},
    {"s":"test2","x":2120000,"y":0.024},{"s":"test2","x":2170000,"y":0.021},{"s":"test2","x":2220000,"y":0.02},{"s":"test2","x":2260000,"y":0.017},{"s":"test2","x":2300000,"y":0.024},{"s":"test2","x":2360000,"y":0.02},{"s":"test2","x":2400000,"y":0.022},{"s":"test2","x":2450000,"y":0.02},{"s":"test2","x":2490000,"y":0.02},{"s":"test2","x":2540000,"y":0.022},{"s":"test2","x":2590000,"y":0.024},{"s":"test2","x":2625000,"y":0.026}
  ]
},
"spacing": 3,
"resolve": {"scale": {"color": "independent", "shape": "independent", "strokeDash": "independent"}},
"vconcat": [
 {"spacing": 40, "resolve": {"scale": {"color": "independent", "shape": "independent", "strokeDash": "independent"}},
  "hconcat": [
   {"spacing": 10, "resolve": {"scale": {"color": "independent", "shape": "independent", "strokeDash": "independent"}},
    "vconcat": [
     {"width": 1, "height": 1, "data": {"values": []}, "mark": "point", "view": {"stroke": null}},
     {"width": 455, "height": 166,
      "title": {"text": "(a)", "orient": "bottom", "fontSize": 19, "offset": -1},
      "resolve": {"axis": {"x": "independent", "y": "independent"}},
      "layer": [
       {"data": {"name": "aL"}, "mark": {"type": "line", "strokeWidth": 2, "clip": true},
        "encoding": {
         "x": {"field": "x", "type": "quantitative", "scale": {"domain": [0, 1715000], "nice": false},
               "axis": {"orient": "bottom", "title": "Rex", "values": [0,500000,1000000,1500000], "labelExpr": "datum.value == 0 ? '0.0E+00' : datum.value == 500000 ? '5.0E+05' : datum.value == 1000000 ? '1.0E+06' : '1.5E+06'", "labelOverlap": false, "labelFontSize": 15, "labelPadding": 10, "tickSize": -5, "titleFontSize": 19, "titlePadding": 0}},
         "y": {"field": "y", "type": "quantitative", "scale": {"domain": [0, 0.08], "nice": false},
               "axis": {"orient": "left", "title": "qw\u00a0\u00a0(MW/m^2 )", "values": [0,0.02,0.04,0.06,0.08], "format": ".2f", "labelOverlap": false, "labelFontSize": 15, "labelPadding": 10, "tickSize": -5, "titleFontSize": 18, "titlePadding": -4}},
         "color": {"field": "s", "type": "nominal", "scale": {"domain": ["Numerical Solution", "Theory Solution", "test"], "range": ["#d62020", "#2f3dff", "#ff00ff"]},
                   "legend": {"title": null, "orient": "none", "legendX": 290, "legendY": 34, "labelFontSize": 10.2, "symbolSize": 36, "symbolOffset": 21, "labelOffset": 30, "rowPadding": -0.2, "symbolStrokeWidth": 2, "padding": 0, "encode": {"symbols": {"update": {"fill": {"value": "transparent"}}}}}},
         "strokeDash": {"field": "s", "type": "nominal", "scale": {"domain": ["Numerical Solution", "Theory Solution", "test"], "range": [[12, 8], [1, 0], [1, 0]]},
                   "legend": {"title": null, "orient": "none", "legendX": 290, "legendY": 34, "labelFontSize": 10.2, "symbolSize": 36, "symbolOffset": 21, "labelOffset": 30, "rowPadding": -0.2, "symbolStrokeWidth": 2, "padding": 0, "encode": {"symbols": {"update": {"fill": {"value": "transparent"}}}}}}
        }},
       {"data": {"name": "aP"}, "mark": {"type": "point", "filled": false, "size": 36, "strokeWidth": 1.3, "opacity": 1, "clip": true},
        "encoding": {
         "x": {"field": "x", "type": "quantitative", "axis": null},
         "y": {"field": "y", "type": "quantitative", "axis": null},
         "color": {"field": "s", "type": "nominal", "scale": {"domain": ["Numerical Solution", "Theory Solution", "test"], "range": ["#d62020", "#2f3dff", "#ff00ff"]},
                   "legend": {"title": null, "orient": "none", "legendX": 290, "legendY": 34, "labelFontSize": 10.2, "symbolSize": 36, "symbolOffset": 21, "labelOffset": 30, "rowPadding": -0.2, "symbolStrokeWidth": 2, "padding": 0, "encode": {"symbols": {"update": {"fill": {"value": "transparent"}}}}}},
         "shape": {"field": "s", "type": "nominal", "scale": {"domain": ["Numerical Solution", "Theory Solution", "test"], "range": ["M-8,0H8", "M-8,0H8", "diamond"]},
                   "legend": {"title": null, "orient": "none", "legendX": 290, "legendY": 34, "labelFontSize": 10.2, "symbolSize": 36, "symbolOffset": 21, "labelOffset": 30, "rowPadding": -0.2, "symbolStrokeWidth": 2, "padding": 0, "encode": {"symbols": {"update": {"fill": {"value": "transparent"}}}}}}
        }},
       {"data": {"values": [{}]}, "mark": {"type": "text", "font": "Liberation Serif", "fontWeight": "bold", "fontSize": 14.5, "color": "black"},
        "encoding": {
         "x": {"datum": 878000, "type": "quantitative", "axis": {"orient": "bottom", "values": [100000,200000,300000,400000,600000,700000,800000,900000,1100000,1200000,1300000,1400000,1600000,1700000], "labels": false, "title": null, "tickSize": -2.5}},
         "y": {"datum": 0.0727, "type": "quantitative", "axis": {"orient": "left", "values": [0.005,0.01,0.015,0.025,0.03,0.035,0.045,0.05,0.055,0.065,0.07,0.075], "labels": false, "title": null, "tickSize": -2.5}},
         "text": {"value": "Ma=7.0\u00a0\u00a0Re =6.08E5(/m)\u00a0\u00a0T0=2120K"}}}
      ]}
    ]},
   {"width": 403, "height": 188,
    "title": {"text": "(b)", "orient": "bottom", "fontSize": 19, "offset": 0, "dx": 20},
    "resolve": {"axis": {"x": "independent", "y": "independent"}},
    "layer": [
     {"data": {"name": "bL"}, "mark": {"type": "line", "strokeWidth": 2, "clip": true},
      "encoding": {
       "x": {"field": "x", "type": "quantitative", "scale": {"domain": [0, 3600000], "nice": false},
             "axis": {"orient": "bottom", "title": "Rex", "values": [0,1000000,2000000,3000000], "labelExpr": "datum.value == 0 ? '0' : format(datum.value/1000000, 'd') + 'E+06'", "labelOverlap": false, "labelFontSize": 13, "labelPadding": 10, "tickSize": -5, "titleFontSize": 18, "titlePadding": 2}},
       "y": {"field": "y", "type": "quantitative", "scale": {"domain": [0, 0.1], "nice": false},
             "axis": {"orient": "left", "title": "qw\u00a0\u00a0(MW/m^2 )", "values": [0,0.02,0.04,0.06,0.08,0.1], "format": "~g", "labelOverlap": false, "labelFontSize": 13, "labelPadding": 10, "tickSize": -5, "titleFontSize": 17.5, "titlePadding": 4}},
       "color": {"field": "s", "type": "nominal", "scale": {"domain": ["Numerical Solution", "Theory Solution", "test1", "test2"], "range": ["#d62020", "#2f3dff", "#555555", "#ff00ff"]},
                 "legend": {"title": null, "orient": "none", "legendX": 254, "legendY": 32, "labelFontSize": 9.5, "symbolSize": 25, "symbolOffset": 19.5, "labelOffset": 27.5, "rowPadding": -0.6, "symbolStrokeWidth": 2, "padding": 0, "encode": {"symbols": {"update": {"fill": {"value": "transparent"}}}}}},
       "strokeDash": {"field": "s", "type": "nominal", "scale": {"domain": ["Numerical Solution", "Theory Solution", "test1", "test2"], "range": [[12, 8], [1, 0], [1, 0], [1, 0]]},
                 "legend": {"title": null, "orient": "none", "legendX": 254, "legendY": 32, "labelFontSize": 9.5, "symbolSize": 25, "symbolOffset": 19.5, "labelOffset": 27.5, "rowPadding": -0.6, "symbolStrokeWidth": 2, "padding": 0, "encode": {"symbols": {"update": {"fill": {"value": "transparent"}}}}}}
      }},
     {"data": {"name": "bP"}, "mark": {"type": "point", "filled": false, "size": 25, "strokeWidth": 1.2, "opacity": 1, "clip": true},
      "encoding": {
       "x": {"field": "x", "type": "quantitative", "axis": null},
       "y": {"field": "y", "type": "quantitative", "axis": null},
       "color": {"field": "s", "type": "nominal", "scale": {"domain": ["Numerical Solution", "Theory Solution", "test1", "test2"], "range": ["#d62020", "#2f3dff", "#555555", "#ff00ff"]},
                 "legend": {"title": null, "orient": "none", "legendX": 254, "legendY": 32, "labelFontSize": 9.5, "symbolSize": 25, "symbolOffset": 19.5, "labelOffset": 27.5, "rowPadding": -0.6, "symbolStrokeWidth": 2, "padding": 0, "encode": {"symbols": {"update": {"fill": {"value": "transparent"}}}}}},
       "shape": {"field": "s", "type": "nominal", "scale": {"domain": ["Numerical Solution", "Theory Solution", "test1", "test2"], "range": ["M-8.8,0H8.8", "M-8.8,0H8.8", "circle", "triangle-down"]},
                 "legend": {"title": null, "orient": "none", "legendX": 254, "legendY": 32, "labelFontSize": 9.5, "symbolSize": 25, "symbolOffset": 19.5, "labelOffset": 27.5, "rowPadding": -0.6, "symbolStrokeWidth": 2, "padding": 0, "encode": {"symbols": {"update": {"fill": {"value": "transparent"}}}}}}
      }},
     {"data": {"values": [{}]}, "mark": {"type": "text", "font": "Liberation Serif", "fontWeight": "bold", "fontSize": 15, "color": "black"},
      "encoding": {
       "x": {"datum": 1768000, "type": "quantitative", "axis": {"orient": "bottom", "values": [200000,400000,600000,800000,1200000,1400000,1600000,1800000,2200000,2400000,2600000,2800000,3200000,3400000], "labels": false, "title": null, "tickSize": -2.5}},
       "y": {"datum": 0.0936, "type": "quantitative", "axis": {"orient": "left", "values": [0.005,0.01,0.015,0.025,0.03,0.035,0.045,0.05,0.055,0.065,0.07,0.075,0.085,0.09,0.095], "labels": false, "title": null, "tickSize": -2.5}},
       "text": {"value": "Ma=7.0\u00a0\u00a0Re=1.23E6(/m)\u00a0\u00a0T0=2220K"}}}
    ]}
  ]},
 {"spacing": 0, "resolve": {"scale": {"color": "independent", "shape": "independent", "strokeDash": "independent"}},
  "hconcat": [
   {"width": 1, "height": 1, "data": {"values": []}, "mark": "point", "view": {"stroke": null}},
   {"width": 400, "height": 166,
    "title": {"text": "(c)", "orient": "bottom", "fontSize": 20, "offset": 7, "dx": -9},
    "resolve": {"axis": {"x": "independent", "y": "independent"}},
    "layer": [
     {"data": {"name": "cL"}, "mark": {"type": "line", "strokeWidth": 2, "clip": true},
      "encoding": {
       "x": {"field": "x", "type": "quantitative", "scale": {"domain": [0, 4330000], "nice": false},
             "axis": {"orient": "bottom", "title": "Rex", "values": [0,1000000,2000000,3000000,4000000], "labelExpr": "datum.value == 0 ? '0' : format(datum.value/1000000, 'd') + 'E+06'", "labelOverlap": false, "labelFontSize": 11.5, "labelPadding": 9, "tickSize": -5, "titleFontSize": 17, "titlePadding": 2}},
       "y": {"field": "y", "type": "quantitative", "scale": {"domain": [0, 0.1], "nice": false},
             "axis": {"orient": "left", "title": "qw\u00a0\u00a0(MW/m^2 )", "values": [0,0.02,0.04,0.06,0.08,0.1], "format": "~g", "labelOverlap": false, "labelFontSize": 11, "labelPadding": 8, "tickSize": -5, "titleFontSize": 14, "titlePadding": 5}},
       "color": {"field": "s", "type": "nominal", "scale": {"domain": ["Numerical Solution1", "Theory Solution", "test1", "test2"], "range": ["#d62020", "#2f3dff", "#ff00ff", "#555555"]},
                 "legend": {"title": null, "orient": "none", "legendX": 272, "legendY": 19, "labelFontSize": 8.7, "symbolSize": 30, "symbolOffset": 17.3, "labelOffset": 21, "rowPadding": -2.4, "symbolStrokeWidth": 2, "padding": 0, "encode": {"symbols": {"update": {"fill": {"value": "transparent"}}}}}},
       "strokeDash": {"field": "s", "type": "nominal", "scale": {"domain": ["Numerical Solution1", "Theory Solution", "test1", "test2"], "range": [[12, 8], [1, 0], [1, 0], [1, 0]]},
                 "legend": {"title": null, "orient": "none", "legendX": 272, "legendY": 19, "labelFontSize": 8.7, "symbolSize": 30, "symbolOffset": 17.3, "labelOffset": 21, "rowPadding": -2.4, "symbolStrokeWidth": 2, "padding": 0, "encode": {"symbols": {"update": {"fill": {"value": "transparent"}}}}}}
      }},
     {"data": {"name": "cP"}, "mark": {"type": "point", "filled": false, "size": 30, "strokeWidth": 1.3, "opacity": 1, "clip": true},
      "encoding": {
       "x": {"field": "x", "type": "quantitative", "axis": null},
       "y": {"field": "y", "type": "quantitative", "axis": null},
       "color": {"field": "s", "type": "nominal", "scale": {"domain": ["Numerical Solution1", "Theory Solution", "test1", "test2"], "range": ["#d62020", "#2f3dff", "#ff00ff", "#555555"]},
                 "legend": {"title": null, "orient": "none", "legendX": 272, "legendY": 19, "labelFontSize": 8.7, "symbolSize": 30, "symbolOffset": 17.3, "labelOffset": 21, "rowPadding": -2.4, "symbolStrokeWidth": 2, "padding": 0, "encode": {"symbols": {"update": {"fill": {"value": "transparent"}}}}}},
       "shape": {"field": "s", "type": "nominal", "scale": {"domain": ["Numerical Solution1", "Theory Solution", "test1", "test2"], "range": ["M-7.3,0H7.3", "M-7.3,0H7.3", "circle", "triangle-down"]},
                 "legend": {"title": null, "orient": "none", "legendX": 272, "legendY": 19, "labelFontSize": 8.7, "symbolSize": 30, "symbolOffset": 17.3, "labelOffset": 21, "rowPadding": -2.4, "symbolStrokeWidth": 2, "padding": 0, "encode": {"symbols": {"update": {"fill": {"value": "transparent"}}}}}}
      }},
     {"data": {"values": [{}]}, "mark": {"type": "text", "font": "Liberation Serif", "fontWeight": "bold", "fontSize": 12, "color": "black"},
      "encoding": {
       "x": {"datum": 2030000, "type": "quantitative", "axis": {"orient": "bottom", "values": [200000,400000,600000,800000,1200000,1400000,1600000,1800000,2200000,2400000,2600000,2800000,3200000,3400000,3600000,3800000,4200000], "labels": false, "title": null, "tickSize": -2.5}},
       "y": {"datum": 0.0921, "type": "quantitative", "axis": {"orient": "left", "values": [0.005,0.01,0.015,0.025,0.03,0.035,0.045,0.05,0.055,0.065,0.07,0.075,0.085,0.09,0.095], "labels": false, "title": null, "tickSize": -2.5}},
       "text": {"value": "Ma=5.85\u00a0\u00a0Re=1.44E6 (/m)\u00a0\u00a0T0=1800K"}}}
    ]},
   {"width": 3, "height": 1, "data": {"values": []}, "mark": "point", "view": {"stroke": null}},
   {"width": 424, "height": 165,
    "title": {"text": "(d)", "orient": "bottom", "fontSize": 20, "offset": 5, "dx": -4},
    "resolve": {"axis": {"x": "independent", "y": "independent"}},
    "layer": [
     {"data": {"name": "dL"}, "mark": {"type": "line", "strokeWidth": 2, "clip": true},
      "encoding": {
       "x": {"field": "x", "type": "quantitative", "scale": {"domain": [0, 2630000], "nice": false},
             "axis": {"orient": "bottom", "title": "Rex", "values": [0,1000000,2000000], "labelExpr": "datum.value == 0 ? '0' : format(datum.value/1000000, 'd') + 'E+06'", "labelOverlap": false, "labelFontSize": 12.5, "labelPadding": 9, "tickSize": -5, "titleFontSize": 17, "titlePadding": 3}},
       "y": {"field": "y", "type": "quantitative", "scale": {"domain": [0, 0.1], "nice": false},
             "axis": {"orient": "left", "title": "qw\u00a0\u00a0(MW/m^2 )", "values": [0,0.02,0.04,0.06,0.08,0.1], "format": "~g", "labelOverlap": false, "labelFontSize": 12.5, "labelPadding": 12, "tickSize": -5, "titleFontSize": 14, "titlePadding": 7}},
       "color": {"field": "s", "type": "nominal", "scale": {"domain": ["Numerical Solution1", "Theory Solution", "test1", "test2"], "range": ["#d62020", "#2f3dff", "#ff00ff", "#555555"]},
                 "legend": {"title": null, "orient": "none", "legendX": 290, "legendY": 21, "labelFontSize": 8.8, "symbolSize": 25, "symbolOffset": 17.5, "labelOffset": 20.5, "rowPadding": -1.7, "symbolStrokeWidth": 2, "padding": 0, "encode": {"symbols": {"update": {"fill": {"value": "transparent"}}}}}},
       "strokeDash": {"field": "s", "type": "nominal", "scale": {"domain": ["Numerical Solution1", "Theory Solution", "test1", "test2"], "range": [[12, 8], [1, 0], [1, 0], [1, 0]]},
                 "legend": {"title": null, "orient": "none", "legendX": 290, "legendY": 21, "labelFontSize": 8.8, "symbolSize": 25, "symbolOffset": 17.5, "labelOffset": 20.5, "rowPadding": -1.7, "symbolStrokeWidth": 2, "padding": 0, "encode": {"symbols": {"update": {"fill": {"value": "transparent"}}}}}}
      }},
     {"data": {"name": "dP"}, "mark": {"type": "point", "filled": false, "size": 25, "strokeWidth": 1.2, "opacity": 1, "clip": true},
      "encoding": {
       "x": {"field": "x", "type": "quantitative", "axis": null},
       "y": {"field": "y", "type": "quantitative", "axis": null},
       "color": {"field": "s", "type": "nominal", "scale": {"domain": ["Numerical Solution1", "Theory Solution", "test1", "test2"], "range": ["#d62020", "#2f3dff", "#ff00ff", "#555555"]},
                 "legend": {"title": null, "orient": "none", "legendX": 290, "legendY": 21, "labelFontSize": 8.8, "symbolSize": 25, "symbolOffset": 17.5, "labelOffset": 20.5, "rowPadding": -1.7, "symbolStrokeWidth": 2, "padding": 0, "encode": {"symbols": {"update": {"fill": {"value": "transparent"}}}}}},
       "shape": {"field": "s", "type": "nominal", "scale": {"domain": ["Numerical Solution1", "Theory Solution", "test1", "test2"], "range": ["M-8,0H8", "M-8,0H8", "triangle-down", "circle"]},
                 "legend": {"title": null, "orient": "none", "legendX": 290, "legendY": 21, "labelFontSize": 8.8, "symbolSize": 25, "symbolOffset": 17.5, "labelOffset": 20.5, "rowPadding": -1.7, "symbolStrokeWidth": 2, "padding": 0, "encode": {"symbols": {"update": {"fill": {"value": "transparent"}}}}}}
      }},
     {"data": {"values": [{}]}, "mark": {"type": "text", "font": "Liberation Serif", "fontWeight": "bold", "fontSize": 11.4, "color": "black"},
      "encoding": {
       "x": {"datum": 1340000, "type": "quantitative", "axis": {"orient": "bottom", "values": [200000,400000,600000,800000,1200000,1400000,1600000,1800000,2200000,2400000,2600000], "labels": false, "title": null, "tickSize": -2.5}},
       "y": {"datum": 0.0933, "type": "quantitative", "axis": {"orient": "left", "values": [0.005,0.01,0.015,0.025,0.03,0.035,0.045,0.05,0.055,0.065,0.07,0.075,0.085,0.09,0.095], "labels": false, "title": null, "tickSize": -2.5}},
       "text": {"value": "Ma=5.85\u00a0\u00a0Re=9.1E5 (/m)\u00a0\u00a0T0=1750K"}}}
    ]}
  ]}
]
}
